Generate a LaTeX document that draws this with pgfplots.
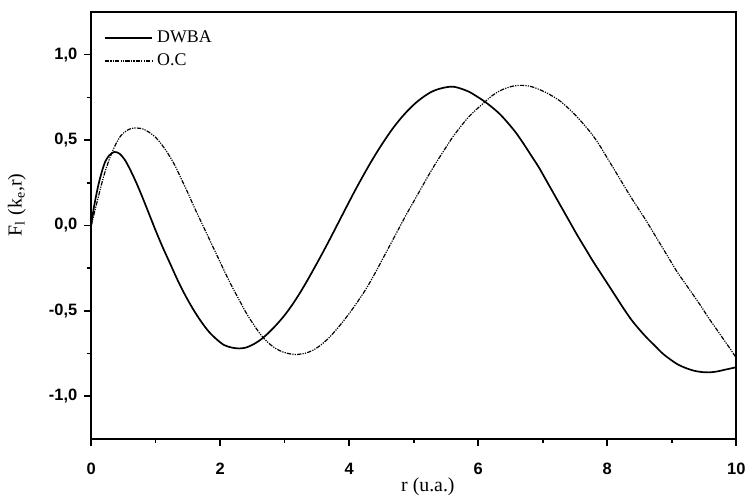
\documentclass[border=0pt]{standalone}
\usepackage{fontspec}
\setmainfont{Liberation Serif}
\setsansfont{Liberation Sans}
\usepackage{pgfplots}
\pgfplotsset{compat=1.18}

\pgfplotstableread{
r F
0 0
0.04 0.10
0.08 0.18
0.12 0.25
0.17 0.32
0.22 0.375
0.28 0.41
0.36 0.43
0.44 0.42
0.52 0.385
0.60 0.33
0.70 0.25
0.80 0.16
0.90 0.065
1.00 -0.03
1.10 -0.12
1.22 -0.22
1.34 -0.32
1.46 -0.41
1.58 -0.49
1.70 -0.56
1.82 -0.62
1.94 -0.665
2.06 -0.70
2.18 -0.715
2.29 -0.72
2.40 -0.715
2.52 -0.695
2.64 -0.665
2.76 -0.625
2.88 -0.578
3.00 -0.525
3.12 -0.463
3.24 -0.393
3.36 -0.316
3.48 -0.235
3.60 -0.152
3.72 -0.066
3.84 0.022
3.96 0.11
4.08 0.197
4.20 0.28
4.32 0.36
4.44 0.435
4.56 0.505
4.68 0.57
4.80 0.627
4.92 0.677
5.04 0.72
5.16 0.755
5.28 0.783
5.40 0.80
5.52 0.81
5.62 0.812
5.74 0.80
5.86 0.782
5.98 0.755
6.10 0.725
6.22 0.69
6.34 0.65
6.46 0.60
6.58 0.545
6.70 0.48
6.82 0.41
6.94 0.34
7.06 0.26
7.18 0.18
7.30 0.10
7.42 0.02
7.54 -0.06
7.66 -0.135
7.78 -0.21
7.90 -0.28
8.02 -0.35
8.14 -0.42
8.26 -0.49
8.38 -0.555
8.50 -0.61
8.62 -0.66
8.74 -0.705
8.86 -0.75
8.98 -0.785
9.10 -0.815
9.22 -0.835
9.34 -0.85
9.46 -0.858
9.58 -0.86
9.70 -0.855
9.82 -0.845
9.94 -0.835
10 -0.83
}\dwba

\pgfplotstableread{
r F
0 0
0.05 0.075
0.10 0.15
0.16 0.24
0.22 0.32
0.30 0.405
0.38 0.475
0.46 0.525
0.55 0.555
0.63 0.568
0.71 0.57
0.80 0.565
0.90 0.545
1.00 0.515
1.10 0.47
1.20 0.415
1.30 0.35
1.40 0.27
1.50 0.19
1.60 0.105
1.70 0.025
1.80 -0.055
1.90 -0.135
2.00 -0.215
2.10 -0.295
2.20 -0.37
2.30 -0.44
2.40 -0.51
2.50 -0.57
2.62 -0.635
2.74 -0.685
2.86 -0.72
2.98 -0.742
3.10 -0.753
3.20 -0.755
3.32 -0.748
3.44 -0.73
3.56 -0.70
3.68 -0.66
3.80 -0.61
3.92 -0.555
4.04 -0.495
4.16 -0.43
4.28 -0.36
4.40 -0.28
4.52 -0.195
4.64 -0.11
4.76 -0.025
4.88 0.06
5.00 0.14
5.12 0.22
5.24 0.30
5.36 0.375
5.48 0.445
5.60 0.515
5.72 0.575
5.84 0.63
5.96 0.675
6.08 0.715
6.20 0.755
6.32 0.785
6.44 0.805
6.56 0.817
6.68 0.82
6.80 0.815
6.92 0.80
7.04 0.78
7.16 0.755
7.28 0.725
7.40 0.685
7.52 0.64
7.64 0.59
7.76 0.535
7.88 0.47
8.00 0.395
8.12 0.32
8.24 0.245
8.36 0.17
8.48 0.10
8.60 0.03
8.72 -0.045
8.84 -0.12
8.96 -0.195
9.08 -0.27
9.20 -0.335
9.32 -0.40
9.44 -0.465
9.56 -0.535
9.68 -0.60
9.80 -0.665
9.92 -0.73
10 -0.775
}\oc

\begin{document}
\begin{tikzpicture}
\begin{axis}[
  scale only axis,
  width=325.5pt, height=215.5pt,
  xmin=0, xmax=10,
  ymin=-1.25, ymax=1.25,
  axis line style={line width=1pt},
  tick pos=left,
  tick align=outside,
  major tick length=3.5pt,
  minor tick length=2pt,
  every tick/.style={black, line width=0.8pt},
  xtick={0,2,4,6,8,10},
  minor x tick num=1,
  ytick={-1,-0.5,0,0.5,1},
  minor y tick num=1,
  ticklabel style={font=\sffamily\bfseries\fontsize{8.3}{10}\selectfont},
  xticklabel style={yshift=-5pt},
  /pgf/number format/assume math mode=true,
  yticklabel style={/pgf/number format/.cd, fixed, fixed zerofill, precision=1, use comma},
  xlabel={r (u.a.)},
  xlabel style={font=\fontsize{10}{12}\selectfont, at={(axis description cs:0.522,0)}, anchor=north, yshift=-16pt},
  ylabel={F\textsubscript{l} (k\textsubscript{e},r)},
  ylabel style={font=\fontsize{10}{12}\selectfont, at={(axis description cs:-0.115,0.548)}, anchor=center},
  legend style={at={(axis description cs:0.01,0.975)}, anchor=north west, draw=none, fill=none,
    font=\fontsize{9}{11}\selectfont, row sep=0pt},
  legend cell align=left,
  legend image code/.code={\draw[#1] (0pt,0pt) -- (24pt,0pt);},
]
\addplot[black, line width=0.85pt, smooth] table[x=r, y=F] {\dwba};
\addplot[black, line width=0.6pt, smooth, dash pattern=on 2.2pt off 0.6pt on 0.6pt off 0.6pt on 0.6pt off 0.6pt] table[x=r, y=F] {\oc};
\legend{DWBA, O.C}
\end{axis}
\useasboundingbox (-46pt,-25pt) rectangle (330pt,221.5pt);
\end{tikzpicture}
\end{document}
